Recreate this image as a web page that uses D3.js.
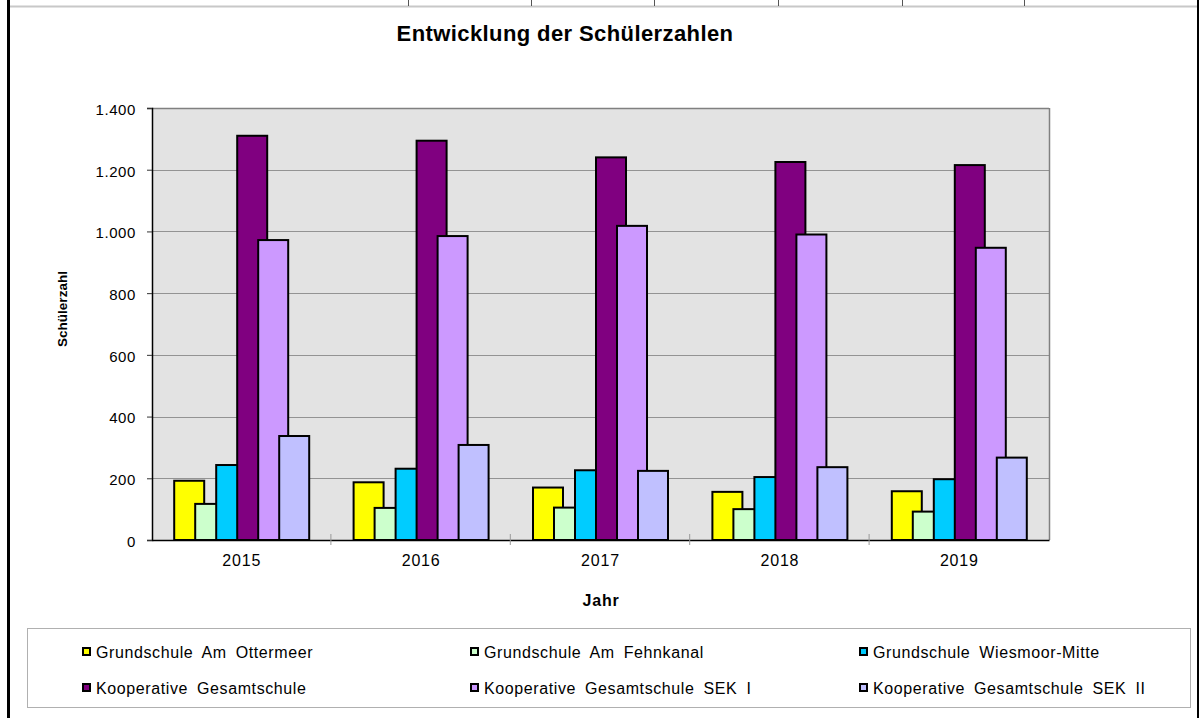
<!DOCTYPE html>
<html>
<head>
<meta charset="utf-8">
<script src="https://cdn.jsdelivr.net/npm/d3@7"></script>
<style>
  html, body { margin: 0; padding: 0; background: #fff; }
  svg { display: block; font-family: "Liberation Sans", Arial, sans-serif; }
</style>
</head>
<body>
<svg id="chart" width="1199" height="718"></svg>
<script>
const title = "Entwicklung der Schülerzahlen";
const yTitle = "Schülerzahl";
const xTitle = "Jahr";
const categories = ["2015", "2016", "2017", "2018", "2019"];
const seriesNames = [
  "Grundschule Am Ottermeer",
  "Grundschule Am Fehnkanal",
  "Grundschule Wiesmoor-Mitte",
  "Kooperative Gesamtschule",
  "Kooperative Gesamtschule SEK I",
  "Kooperative Gesamtschule SEK II"
];
const seriesColors = ["#FFFF00", "#CCFFCC", "#00CCFF", "#800080", "#CC99FF", "#C0C0FF"];
const ottermeer   = [192, 187, 170, 156, 158];
const fehnkanal   = [117, 104, 105, 100, 92];
const wiesmoor    = [243, 231, 226, 204, 197];
const kgs         = [1310, 1294, 1240, 1225, 1215];
const kgsSek1     = [972, 985, 1018, 990, 947];
const kgsSek2     = [337, 308, 224, 236, 267];
const seriesValues = [ottermeer, fehnkanal, wiesmoor, kgs, kgsSek1, kgsSek2];
const yTicks = [0, 200, 400, 600, 800, 1000, 1200, 1400];

const svg = d3.select("#chart");

// outer frame bits
svg.append("line").attr("x1", 10).attr("x2", 1197).attr("y1", 6.5).attr("y2", 6.5)
  .attr("stroke", "#c8c8c8").attr("stroke-width", 2);
[408, 531, 654, 778, 902, 1024].forEach(x => {
  svg.append("line").attr("x1", x + 0.5).attr("x2", x + 0.5).attr("y1", 0).attr("y2", 6)
    .attr("stroke", "#555").attr("stroke-width", 1);
});
svg.append("rect").attr("x", 7).attr("y", 0).attr("width", 3).attr("height", 718).attr("fill", "#000");
svg.append("rect").attr("x", 1197).attr("y", 0).attr("width", 2).attr("height", 718).attr("fill", "#000");

const plot = { left: 152, right: 1049, top: 108, bottom: 540 };

const x = d3.scaleBand().domain(categories).range([plot.left, plot.right]).paddingInner(0).paddingOuter(0);
const y = d3.scaleLinear().domain([0, 1400]).range([plot.bottom, plot.top]);

const W = x.bandwidth();
const step = W * 21 / 179.4;
const barW = W * 30 / 179.4;
const groupW = step * 5 + barW;
const offset = (W - groupW) / 2;
const xs = d3.scaleBand().domain(d3.range(seriesNames.length)).range([0, step * seriesNames.length]).paddingInner(0).paddingOuter(0);

// plot background
svg.append("rect").attr("x", plot.left).attr("y", plot.top)
  .attr("width", plot.right - plot.left).attr("height", plot.bottom - plot.top)
  .attr("fill", "#E3E3E3");

// gridlines
svg.append("g").selectAll("line").data(yTicks.filter(d => d > 0)).join("line")
  .attr("x1", plot.left).attr("x2", plot.right)
  .attr("y1", d => Math.round(y(d)) + 0.5).attr("y2", d => Math.round(y(d)) + 0.5)
  .attr("stroke", d => d === 1400 ? "#808080" : "#939393").attr("stroke-width", d => d === 1400 ? 1.5 : 1);

// right border
svg.append("line").attr("x1", plot.right + 0.5).attr("x2", plot.right + 0.5)
  .attr("y1", plot.top).attr("y2", plot.bottom).attr("stroke", "#808080").attr("stroke-width", 1.5);

// bars
seriesValues.forEach((vals, si) => {
  svg.append("g").selectAll("rect").data(vals).join("rect")
    .attr("x", (d, i) => x(categories[i]) + offset + xs(si))
    .attr("y", d => y(d))
    .attr("width", barW)
    .attr("height", d => plot.bottom - y(d))
    .attr("fill", seriesColors[si])
    .attr("stroke", "#000")
    .attr("stroke-width", 2);
});

// y axis
const fmt = d3.formatLocale({ decimal: ",", thousands: ".", grouping: [3], currency: ["", "€"] }).format(",");
const yAxis = d3.axisLeft(y).tickValues(yTicks).tickFormat(fmt).tickSize(5).tickPadding(11);
const gy = svg.append("g").attr("transform", `translate(${plot.left},0)`).call(yAxis);
gy.select(".domain").attr("stroke", "#000").attr("stroke-width", 1.5);
gy.selectAll(".tick line").attr("stroke", "#333");
gy.selectAll("text").attr("font-size", 15).attr("letter-spacing", 0.6).attr("dy", "0.42em").attr("fill", "#000");

// x axis
const xAxis = d3.axisBottom(x).tickSize(0).tickPadding(15);
const gx = svg.append("g").attr("transform", `translate(0,${plot.bottom})`).call(xAxis);
gx.select(".domain").attr("stroke", "#000").attr("stroke-width", 1.5);
gx.selectAll("text").attr("font-size", 16).attr("letter-spacing", 0.8).attr("fill", "#000");
// category separator ticks
svg.append("g").selectAll("line").data(categories.slice(1)).join("line")
  .attr("x1", d => x(d) - 0.5).attr("x2", d => x(d) - 0.5)
  .attr("y1", plot.bottom - 6).attr("y2", plot.bottom + 5)
  .attr("stroke", "#999").attr("stroke-width", 1);

// titles
svg.append("text").attr("x", 565).attr("y", 41).attr("text-anchor", "middle")
  .attr("font-size", 22).attr("font-weight", "bold").attr("letter-spacing", 0.4).text(title);
svg.append("text").attr("transform", "translate(67,309) rotate(-90)").attr("text-anchor", "middle")
  .attr("font-size", 13.5).attr("font-weight", "bold").text(yTitle);
svg.append("text").attr("x", 601).attr("y", 606).attr("text-anchor", "middle")
  .attr("font-size", 16).attr("font-weight", "bold").attr("letter-spacing", 0.8).text(xTitle);

// legend
svg.append("rect").attr("x", 27.5).attr("y", 628.5).attr("width", 1163).attr("height", 79)
  .attr("fill", "#fff").attr("stroke", "#b0b0b0").attr("stroke-width", 1);
const legX = [80, 468, 857];
const legY = [652, 688];
seriesNames.forEach((name, i) => {
  const lx = legX[i % 3], ly = legY[Math.floor(i / 3)];
  svg.append("rect").attr("x", lx + 3).attr("y", ly - 4).attr("width", 7).attr("height", 7)
    .attr("fill", seriesColors[i]).attr("stroke", "#000").attr("stroke-width", 2);
  svg.append("text").attr("x", lx + 16).attr("y", ly + 5.5).attr("font-size", 16)
    .attr("letter-spacing", 0.6).attr("word-spacing", 4).attr("fill", "#000").text(name);
});
</script>
</body>
</html>
